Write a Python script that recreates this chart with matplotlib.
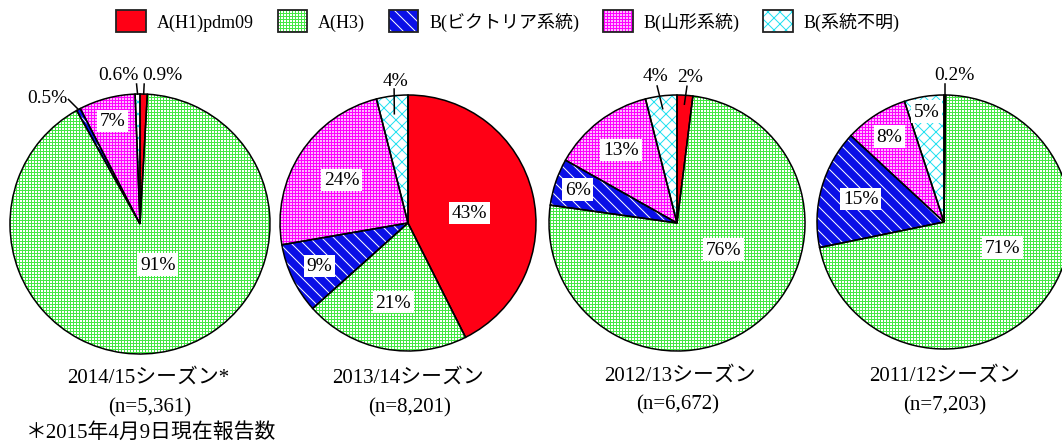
import numpy as np
import matplotlib
matplotlib.use("Agg")
import matplotlib.pyplot as plt
from matplotlib.patches import Patch
from matplotlib.legend_handler import HandlerTuple

# ---------------- data ----------------
categories = ['A(H1)pdm09', 'A(H3)', 'B(ビクトリア系統)', 'B(山形系統)', 'B(系統不明)']
seasons = ['2014/15シーズン*', '2013/14シーズン', '2012/13シーズン', '2011/12シーズン']
n_labels = ['(n=5,361)', '(n=8,201)', '(n=6,672)', '(n=7,203)']
s2014_15 = [0.9, 91, 0.5, 7, 0.6]
s2013_14 = [43, 21, 9, 24, 4]
s2012_13 = [2, 76, 6, 13, 4]
s2011_12 = [0.2, 71, 15, 8, 5]
footnote = '＊2015年4月9日現在報告数'
series = [s2014_15, s2013_14, s2012_13, s2011_12]

# ---------------- styles ----------------
DPI = 108
S = 100 / DPI  # keep pixel sizes as designed at 100 dpi


def fs(pt):
    return pt * S


FONT = ['Liberation Serif', 'Noto Sans CJK JP', 'DejaVu Sans']
plt.rcParams['font.family'] = FONT
plt.rcParams['hatch.linewidth'] = 72 / DPI

face = ['#ff0015', 'white', '#0a10e6', '#ffb8ff', 'white']
hatchcol = ['#ff0015', '#44e844', 'white', '#ff00ff', '#22e0f0']
hatches = [None, '++++++', '\\\\\\', '++++++', 'xxx']

W, H = 1062, 444
fig = plt.figure(figsize=(W / DPI, H / DPI), dpi=DPI)
ax = fig.add_axes([0, 0, 1, 1])

centers = [(140, 219), (408, 220), (677, 220), (944, 221)]
radii = [130, 128, 128, 127]

# label layout: ('in', r, dtheta_cw) or ('out', text_dx, text_dy, r0, line_dx, line_dy)
layout = [
    {0: ('out', 19, 20, 1.0, 0.5, 10), 1: ('in', 0.34, -11), 2: ('out', -31, 12, 1.0, -10, 10),
     3: ('in', 0.82, 0), 4: ('out', -19, 20, 1.0, -1, 10)},
    {0: ('in', 0.485, 4), 1: ('in', 0.63, 0), 2: ('in', 0.77, 0), 3: ('in', 0.62, 0),
     4: ('out', 3, 15, 0.86, 2, 7)},
    {0: ('out', 5, 19, 0.93, 2, 9), 1: ('in', 0.42, -23), 2: ('in', 0.82, 0), 3: ('in', 0.72, 0),
     4: ('out', -6, 20, 0.9, -4, 10)},
    {0: ('out', 10, 21, 1.0, 0, 11), 1: ('in', 0.5, -16), 2: ('in', 0.68, 0), 3: ('in', 0.8, 0),
     4: ('in', 0.88, 0)},
]

bbox = dict(facecolor='white', edgecolor='none', pad=fs(2.0))
LABEL_FS = fs(14)

for k, vals in enumerate(series):
    c = centers[k]
    R = radii[k]
    wedges, _ = ax.pie(vals, startangle=90, counterclock=False, center=c, radius=R,
                       colors=face, hatch=hatches, frame=False,
                       wedgeprops=dict(linewidth=0))
    for w, hc in zip(wedges, hatchcol):
        w.set_edgecolor(hc)
        w.set_linewidth(0)
    ax.pie(vals, startangle=90, counterclock=False, center=c, radius=R,
           colors=['none'] * 5, frame=False,
           wedgeprops=dict(linewidth=fs(1.1), edgecolor='black'))
    for i, w in enumerate(wedges):
        mid = np.deg2rad((w.theta1 + w.theta2) / 2)
        lab = f'{vals[i]:g}%'
        spec = layout[k][i]
        if spec[0] == 'in':
            r, dth = spec[1], spec[2]
            a = mid - np.deg2rad(dth)
            x = c[0] + r * R * np.cos(a)
            y = c[1] + r * R * np.sin(a)
            ax.text(x, y, lab, ha='center', va='center', fontsize=LABEL_FS, bbox=bbox, zorder=5)
        else:
            _, tdx, tdy, r0, ldx, ldy = spec
            ex = c[0] + R * np.cos(mid)
            ey = c[1] + R * np.sin(mid)
            sx = c[0] + r0 * R * np.cos(mid)
            sy = c[1] + r0 * R * np.sin(mid)
            ax.plot([sx, ex + ldx], [sy, ey + ldy], color='black', lw=fs(1.1), zorder=6)
            ax.text(ex + tdx, ey + tdy, lab, ha='center', va='center', fontsize=LABEL_FS, zorder=6)

title_pos = [(148, 66), (408, 66), (680, 68), (945, 68)]
n_pos = [(150, 36), (410, 36), (678, 39), (945, 38)]
for k in range(4):
    ax.text(*title_pos[k], seasons[k], ha='center', va='center', fontsize=fs(15))
    ax.text(*n_pos[k], n_labels[k], ha='center', va='center', fontsize=fs(15))
ax.text(26, 11, footnote, ha='left', va='center', fontsize=fs(15))

ax.set_xlim(0, W)
ax.set_ylim(0, H)
ax.set_aspect('auto')
ax.axis('off')

# legend
handles = []
for i in range(5):
    p1 = Patch(facecolor=face[i], edgecolor=hatchcol[i], hatch=hatches[i], linewidth=0)
    p2 = Patch(facecolor='none', edgecolor='#222222', linewidth=fs(1.3))
    handles.append((p1, p2))
fig.legend(handles, categories, loc='center', bbox_to_anchor=(508 / W, 1 - 22 / H), ncol=5,
           frameon=False, fontsize=fs(13), handlelength=1.65, handleheight=1.45,
           handletextpad=0.6, columnspacing=1.3,
           handler_map={tuple: HandlerTuple(ndivide=1, pad=0)})

fig.savefig('out.png', dpi=DPI)
